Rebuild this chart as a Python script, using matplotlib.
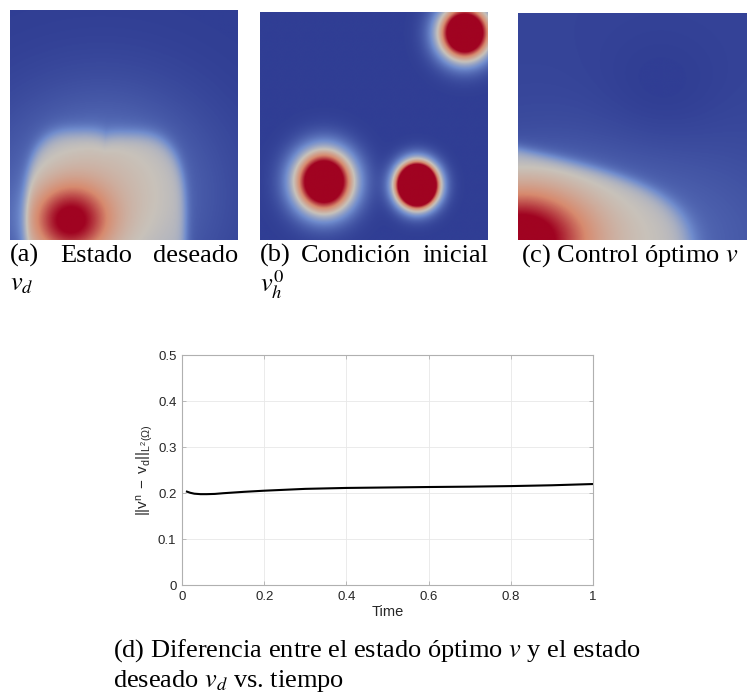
import numpy as np
import matplotlib
matplotlib.use('Agg')
import matplotlib.pyplot as plt
from matplotlib.colors import LinearSegmentedColormap

W, H = 748, 698

# ---------------- data ----------------
# colour map as seen in the pictures (cool-to-warm)
cmap_pos = [0.0, 0.25, 0.5, 0.75, 1.0]
cmap_rgb = [(48, 62, 148), (112, 140, 205), (200, 194, 186), (215, 138, 110), (160, 3, 33)]

# panel (a): desired state v_d  (cx, cy, ax, ay)
a_lobes = [(0.30, 0.05, 0.235, 0.42), (0.52, 0.05, 0.25, 0.41)]
a_plateau_amp = 0.33
a_peak = (0.26, 0.08, 0.12, 0.11, 0.55)      # cx, cy, sx, sy, amp
a_halo = (0.40, 0.20, 0.33, 0.30, 0.22)

# panel (b): initial condition, three blobs (cx, cy, sx, sy, amp)
b_blobs = [(0.28, 0.255, 0.088, 0.094, 1.6),
           (0.69, 0.24, 0.057, 0.062, 3.0),
           (0.90, 0.91, 0.077, 0.081, 1.7)]

# panel (c): optimal control
c_peak = (0.0, 0.0, 0.21, 0.16, 0.70)
c_plateau = (0.76, 0.40, 0.25, 0.33)          # x extent, y extent, slope, amp
c_halo = (0.40, 0.0, 0.5, 0.3, 0.14)
c_background = 0.02
c_dip = (0.62, 0.62, 0.2, 0.2, -0.03)

# panel (d): ||v^n - v_d|| vs time
time = [0.012, 0.02, 0.03, 0.045, 0.06, 0.08, 0.10, 0.15, 0.20, 0.30,
        0.40, 0.50, 0.60, 0.70, 0.80, 0.90, 1.00]
err = [0.203, 0.2005, 0.1985, 0.1975, 0.1975, 0.198, 0.1995, 0.2025, 0.205, 0.209,
       0.211, 0.212, 0.213, 0.2138, 0.215, 0.2168, 0.2195]

xticks = [0, 0.2, 0.4, 0.6, 0.8, 1.0]
xticklabels = ['0', '0.2', '0.4', '0.6', '0.8', '1']
yticks = [0, 0.1, 0.2, 0.3, 0.4, 0.5]
yticklabels = ['0', '0.1', '0.2', '0.3', '0.4', '0.5']

# ---------------- helpers ----------------
def box(x0, y0, x1, y1):
    return [x0 / W, 1 - y1 / H, (x1 - x0) / W, (y1 - y0) / H]

def fx(x):
    return x / W

def fy(y):
    return 1 - y / H

def gauss(X, Y, p):
    cx, cy, sx, sy, A = p
    return A * np.exp(-((X - cx) ** 2 / (2 * sx ** 2) + (Y - cy) ** 2 / (2 * sy ** 2)))

def lobe(X, Y, cx, cy, ax, ay, p=3, w=0.05):
    r = (np.abs((X - cx) / ax) ** p + np.abs((Y - cy) / ay) ** p) ** (1 / p)
    return 1 / (1 + np.exp((r - 1) / w))

cmap = LinearSegmentedColormap.from_list(
    'cw', list(zip(cmap_pos, [tuple(c / 255 for c in rgb) for rgb in cmap_rgb])))

n = 240
g = np.linspace(0, 1, n)
X, Y = np.meshgrid(g, g)

Fa = gauss(X, Y, a_halo) + a_plateau_amp * np.maximum(*[lobe(X, Y, *l) for l in a_lobes]) + gauss(X, Y, a_peak)
Fb = sum(gauss(X, Y, b) for b in b_blobs)
xe, ye, sl, amp = c_plateau
u = X / xe
v = (Y + sl * X) / ye
r = (np.abs(u) ** 4 + np.abs(v) ** 4) ** 0.25
Fc = (c_background + amp / (1 + np.exp((r - 1) / 0.04)) + gauss(X, Y, c_halo)
      + gauss(X, Y, c_peak) + gauss(X, Y, c_dip))

# ---------------- figure ----------------
plt.rcParams['mathtext.fontset'] = 'stix'
fig = plt.figure(figsize=(W / 100, H / 100), dpi=100)

panels = [(Fa, box(10, 10, 238, 240)), (Fb, box(260, 12, 488, 240)), (Fc, box(518, 13, 747, 240))]
for F, rect in panels:
    ax = fig.add_axes(rect)
    ax.imshow(F, origin='lower', extent=[0, 1, 0, 1], cmap=cmap, vmin=0, vmax=1,
              aspect='auto', interpolation='bilinear')
    ax.axis('off')

cap = dict(family='Liberation Serif', size=19, math_fontfamily='stix', color='black', va='baseline')
renderer = fig.canvas.get_renderer()

def justify(words, x0, x1, y):
    ts = [fig.text(fx(x0), fy(y), w, ha='left', **cap) for w in words]
    widths = [t.get_window_extent(renderer).width for t in ts]
    gap = (x1 - x0 - sum(widths)) / (len(words) - 1)
    x = x0
    for t, wd in zip(ts, widths):
        t.set_x(fx(x))
        x += wd + gap

justify(['(a)', 'Estado', 'deseado'], 10, 238, 262)
fig.text(fx(10), fy(290), r'$v_d$', ha='left', **cap)
justify(['(b)', 'Condición', 'inicial'], 260, 488, 262)
fig.text(fx(260), fy(292), r'$v_h^0$', ha='left', **cap)
fig.text(fx(521), fy(262), r'(c) Control óptimo $v$', ha='left', **cap)
fig.text(fx(113), fy(657), r'(d) Diferencia entre el estado óptimo $v$ y el estado', ha='left', **cap)
fig.text(fx(113), fy(687), r'deseado $v_d$ vs. tiempo', ha='left', **cap)

# line plot
ax = fig.add_axes(box(182, 355, 593, 585))
ax.plot(time, err, color='black', lw=1.5)
ax.set_xlim(0, 1)
ax.set_ylim(0, 0.5)
ax.set_xticks(xticks)
ax.set_xticklabels(xticklabels)
ax.set_yticks(yticks)
ax.set_yticklabels(yticklabels)
ax.grid(True, color='#e8e8e8', lw=0.6)
ax.set_axisbelow(True)
for s in ax.spines.values():
    s.set_color('#b0b0b0')
    s.set_linewidth(0.8)
ax.tick_params(direction='in', length=3, width=0.6, color='#b0b0b0', labelcolor='#262626',
               labelsize=9.5, top=True, right=True, pad=4)
for lbl in ax.get_xticklabels() + ax.get_yticklabels():
    lbl.set_family('Liberation Sans')
ax.set_xlabel('Time', family='Liberation Sans', size=10.5, color='#262626', labelpad=2)
ax.set_ylabel(r'$\mathregular{||v^n\ -\ v_d||_{L^{2}(Ω)}}$', family='Liberation Sans', size=11,
              color='#262626', labelpad=2)

fig.savefig('out.png', dpi=100)
